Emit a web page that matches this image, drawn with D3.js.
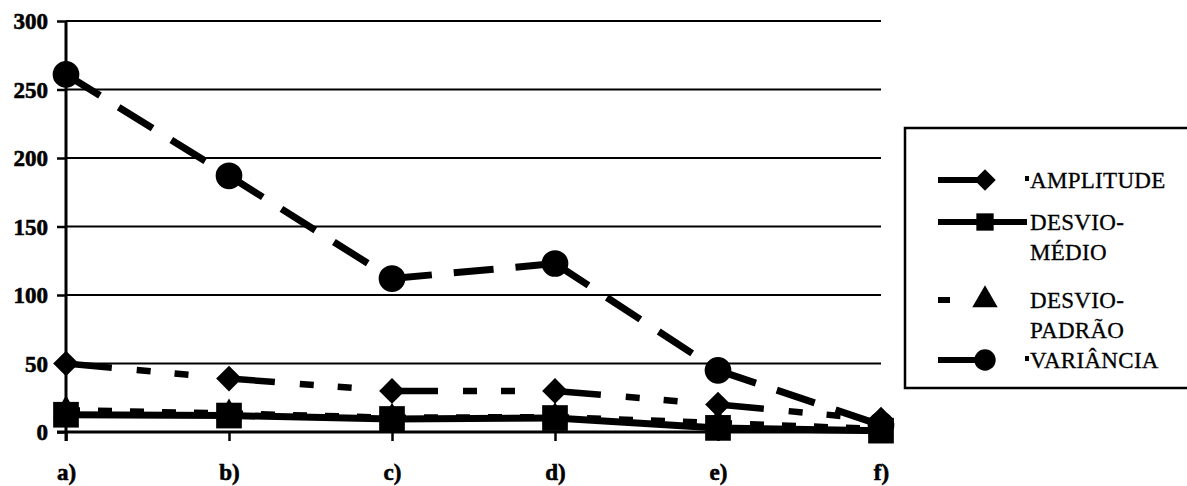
<!DOCTYPE html>
<html>
<head>
<meta charset="utf-8">
<script src="https://cdn.jsdelivr.net/npm/d3@7/dist/d3.min.js"></script>
<style>
  html, body { margin: 0; padding: 0; background: #fff; }
  svg { display: block; }
  text { font-family: "Liberation Serif", "DejaVu Serif", serif; fill: #000; }
</style>
</head>
<body>
<svg id="chart" width="1187" height="486"></svg>
<script>
// Categories along the x axis
const categories = ["a)", "b)", "c)", "d)", "e)", "f)"];

// Series values
const amplitude    = [50, 39, 30, 30, 20, 9];
const desvioMedio  = [12.6, 12, 9.5, 10.2, 3, 1];
const desvioPadrao = [16.1, 13.7, 10.6, 11.1, 6.7, 2.3];
const variancia    = [261, 187, 112, 123, 45, 5];

// Y axis ticks
const yTicks = [0, 50, 100, 150, 200, 250, 300];

const serif = '"Liberation Serif", "DejaVu Serif", serif';
const svg = d3.select("#chart");

const x = d3.scalePoint().domain(categories).range([66, 881]);
const y = d3.scaleLinear().domain([0, 300]).range([432, 21]);

// Horizontal gridlines
svg.append("g")
  .selectAll("line")
  .data(yTicks.filter(t => t > 0))
  .join("line")
  .attr("x1", x.range()[0]).attr("x2", x.range()[1])
  .attr("y1", d => y(d)).attr("y2", d => y(d))
  .attr("stroke", "#000").attr("stroke-width", 2);

// Y axis
const yAxis = svg.append("g")
  .attr("transform", `translate(${x.range()[0]},0)`)
  .call(d3.axisLeft(y).tickValues(yTicks).tickSize(9).tickPadding(9));
yAxis.attr("font-family", null).attr("font-size", null);
yAxis.select(".domain").attr("stroke-width", 3).attr("d", `M0,${y(300)}V${y(0) + 9}`);
yAxis.selectAll(".tick line").attr("stroke-width", 2.5);
yAxis.selectAll(".tick text")
  .attr("font-family", serif)
  .attr("font-weight", "bold")
  .attr("font-size", 23)
  .attr("dy", "0.34em")
  .attr("fill", "#000")
  .attr("stroke", "#000").attr("stroke-width", 0.6);

// X axis
const xAxis = svg.append("g")
  .attr("transform", `translate(0,${y(0)})`)
  .call(d3.axisBottom(x).tickSize(9).tickPadding(23).tickSizeOuter(0));
xAxis.attr("font-family", null).attr("font-size", null);
xAxis.select(".domain").attr("stroke-width", 3).attr("d", `M${x.range()[0] - 9},0H${x.range()[1]}`);
xAxis.selectAll(".tick line").attr("stroke-width", 2.5);
xAxis.selectAll(".tick text")
  .attr("font-family", serif)
  .attr("font-weight", "bold")
  .attr("font-size", 23)
  .attr("fill", "#000")
  .attr("stroke", "#000").attr("stroke-width", 0.6);

// Marker shapes
const sym = {
  diamond: d3.symbol().type(d3.symbolSquare).size(330),
  square: d3.symbol().type(d3.symbolSquare).size(660),
  triangle: d3.symbol().type(d3.symbolTriangle).size(280),
  circle: d3.symbol().type(d3.symbolCircle).size(560)
};
function marker(g, kind, cx, cy) {
  const p = g.append("path")
    .attr("d", sym[kind]())
    .attr("fill", "#000");
  if (kind === "diamond") p.attr("transform", `translate(${cx},${cy}) rotate(45)`);
  else p.attr("transform", `translate(${cx},${cy})`);
}

const series = [
  { name: "VARIÂNCIA", values: variancia, marker: "circle", dash: "40,22", width: 7 },
  { name: "AMPLITUDE", values: amplitude, marker: "diamond", dash: "46,25,14,24,14,300", width: 6.5 },
  { name: "DESVIO-PADRÃO", values: desvioPadrao, marker: "triangle", dash: "14,18", width: 6 },
  { name: "DESVIO-MÉDIO", values: desvioMedio, marker: "square", dash: null, width: 7 }
];

const line = d3.line().x(d => x(d.c)).y(d => y(d.v));

series.forEach(s => {
  const g = svg.append("g");
  const pts = categories.map((c, i) => ({ c, v: s.values[i] }));
  // each segment starts its own dash pattern at the marker
  for (let i = 0; i < pts.length - 1; i++) {
    g.append("path")
      .attr("d", line([pts[i], pts[i + 1]]))
      .attr("fill", "none")
      .attr("stroke", "#000")
      .attr("stroke-width", s.width)
      .attr("stroke-dasharray", s.dash);
  }
  pts.forEach(p => marker(g, s.marker, x(p.c), y(p.v)));
});

// Legend
const legend = svg.append("g");
legend.append("rect")
  .attr("x", 905).attr("y", 128).attr("width", 290).attr("height", 260)
  .attr("fill", "none").attr("stroke", "#000").attr("stroke-width", 2.5);

const legendItems = [
  { lines: ["AMPLITUDE"], marker: "diamond", y: 180, x2: 985, bullet: true },
  { lines: ["DESVIO-", "MÉDIO"], marker: "square", y: 222, x2: 1027, bullet: false },
  { lines: ["DESVIO-", "PADRÃO"], marker: "triangle", y: 300, x2: 950, bullet: false },
  { lines: ["VARIÂNCIA"], marker: "circle", y: 360, x2: 985, bullet: true }
];

legendItems.forEach(it => {
  legend.append("line")
    .attr("x1", 938).attr("x2", it.x2)
    .attr("y1", it.y).attr("y2", it.y)
    .attr("stroke", "#000").attr("stroke-width", 6);
  const mk = it.marker === "square" ? d3.symbol().type(d3.symbolSquare).size(300)
           : it.marker === "circle" ? d3.symbol().type(d3.symbolCircle).size(360)
           : it.marker === "triangle" ? d3.symbol().type(d3.symbolTriangle).size(280)
           : d3.symbol().type(d3.symbolSquare).size(230);
  legend.append("path")
    .attr("d", mk())
    .attr("fill", "#000")
    .attr("transform", `translate(985,${it.y})` + (it.marker === "diamond" ? " rotate(45)" : ""));
  if (it.bullet) {
    legend.append("rect")
      .attr("x", 1025).attr("y", it.y - 4).attr("width", 4).attr("height", 5)
      .attr("fill", "#000");
  }
  it.lines.forEach((t, k) => {
    legend.append("text")
      .attr("x", 1030)
      .attr("y", it.y + 8 + k * 30)
      .attr("font-family", serif)
      .attr("font-size", 23)
      .attr("letter-spacing", 0.3)
      .attr("stroke", "#000").attr("stroke-width", 0.3)
      .text(t);
  });
});
</script>
</body>
</html>
